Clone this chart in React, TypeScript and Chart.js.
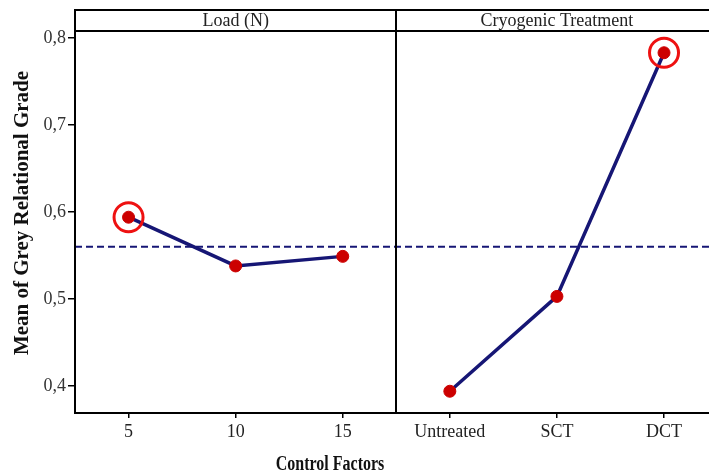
import React, { useEffect, useRef } from "react";
import { Chart, registerables } from "chart.js";

Chart.register(...registerables);

const panelTitles = ["Load (N)", "Cryogenic Treatment"];
const loadLevels = ["5", "10", "15"];
const cryoLevels = ["Untreated", "SCT", "DCT"];
const loadMeans = [0.594, 0.538, 0.549];
const cryoMeans = [0.394, 0.503, 0.783];
const overallMean = 0.56;
const yTicks = [0.4, 0.5, 0.6, 0.7, 0.8];
const bestLoadIndex = 0;
const bestCryoIndex = 2;
const xTitle = "Control Factors";
const yTitle = "Mean of Grey Relational Grade";

const allLabels = [...loadLevels, ...cryoLevels];
const X_MIN = -0.5;
const X_MAX = 5.42;
const Y_MIN = 0.369;
const Y_MAX = 0.808;
const SERIF = "'Liberation Serif', 'Times New Roman', serif";

const framePlugin = {
  id: "frame",
  afterDraw(chart: any) {
    const { ctx, chartArea, scales } = chart;
    const x = scales.x;
    const headerTop = 10;
    ctx.save();
    ctx.strokeStyle = "#000";
    ctx.lineWidth = 2;
    ctx.beginPath();
    ctx.moveTo(chartArea.left, headerTop);
    ctx.lineTo(chartArea.right + 2, headerTop);
    ctx.moveTo(chartArea.left, chartArea.top);
    ctx.lineTo(chartArea.right + 2, chartArea.top);
    ctx.moveTo(chartArea.left, headerTop - 1);
    ctx.lineTo(chartArea.left, chartArea.bottom);
    const dx = Math.round(x.getPixelForValue(2.5));
    ctx.moveTo(dx, headerTop - 1);
    ctx.lineTo(dx, chartArea.bottom);
    ctx.stroke();

    ctx.fillStyle = "#222";
    ctx.font = `18px ${SERIF}`;
    ctx.textAlign = "center";
    ctx.textBaseline = "middle";
    const hy = (headerTop + chartArea.top) / 2 + 1;
    ctx.fillText(panelTitles[0], x.getPixelForValue(1), hy);
    ctx.fillText(panelTitles[1], x.getPixelForValue(4), hy);

    // x title (condensed bold)
    ctx.fillStyle = "#111";
    ctx.font = `bold 20px ${SERIF}`;
    ctx.save();
    ctx.translate(330, 465);
    ctx.scale(0.8, 1);
    ctx.fillText(xTitle, 0, 0);
    ctx.restore();

    // y title
    ctx.save();
    ctx.font = `bold 20px ${SERIF}`;
    ctx.translate(23, 213);
    ctx.rotate(-Math.PI / 2);
    ctx.scale(1.05, 1);
    ctx.fillText(yTitle, 0, 0);
    ctx.restore();
    ctx.restore();
  },
};

export default function App() {
  const canvasRef = useRef<HTMLCanvasElement | null>(null);

  useEffect(() => {
    const canvas = canvasRef.current;
    if (!canvas) return;
    const loadData = loadMeans.map((v, i) => ({ x: i, y: v }));
    const cryoData = cryoMeans.map((v, i) => ({ x: i + loadLevels.length, y: v }));
    const highlightData = [
      { x: bestLoadIndex, y: loadMeans[bestLoadIndex] },
      { x: bestCryoIndex + loadLevels.length, y: cryoMeans[bestCryoIndex] },
    ];
    const lineStyle = {
      borderColor: "#161675",
      borderWidth: 3.5,
      pointRadius: 6,
      pointBackgroundColor: "#cc0000",
      pointBorderColor: "#cc0000",
      pointBorderWidth: 1,
      order: 1,
      clip: false,
    };
    const chart = new Chart(canvas, {
      type: "line",
      data: {
        datasets: [
          {
            label: "highlight",
            data: highlightData,
            showLine: false,
            pointStyle: "circle",
            pointRadius: 14.5,
            pointBorderWidth: 3,
            pointBorderColor: "#ee1111",
            pointBackgroundColor: "rgba(0,0,0,0)",
            order: 0,
            clip: false,
          } as any,
          { label: "Load", data: loadData, ...lineStyle } as any,
          { label: "Cryo", data: cryoData, ...lineStyle } as any,
          {
            label: "mean",
            data: [
              { x: X_MIN, y: overallMean },
              { x: X_MAX, y: overallMean },
            ],
            borderColor: "#161675",
            borderWidth: 2,
            borderDash: [7, 4],
            pointRadius: 0,
            order: 2,
          } as any,
        ],
      },
      options: {
        animation: false,
        responsive: false,
        maintainAspectRatio: false,
        layout: { autoPadding: false, padding: { top: 31, left: 0, right: 0, bottom: 0 } },
        plugins: {
          legend: { display: false },
          tooltip: { enabled: false },
          title: { display: false },
        },
        scales: {
          x: {
            type: "linear",
            min: X_MIN,
            max: X_MAX,
            afterBuildTicks: (s: any) => {
              s.ticks = allLabels.map((_, i) => ({ value: i }));
            },
            afterFit: (s: any) => {
              s.height = 61;
              s.paddingLeft = 0;
              s.paddingRight = 0;
            },
            ticks: {
              autoSkip: false,
              maxRotation: 0,
              padding: 3,
              color: "#222",
              font: { family: SERIF, size: 18 },
              callback: (v: any) => allLabels[Math.round(Number(v))] ?? "",
            },
            grid: {
              drawOnChartArea: false,
              drawTicks: true,
              tickLength: 5,
              color: "#000",
              lineWidth: 1.5,
            },
            border: { display: true, color: "#000", width: 2 },
          },
          y: {
            type: "linear",
            min: Y_MIN,
            max: Y_MAX,
            afterBuildTicks: (s: any) => {
              s.ticks = yTicks.map((v) => ({ value: v }));
            },
            afterFit: (s: any) => {
              s.width = 75;
              s.paddingTop = 0;
              s.paddingBottom = 0;
            },
            ticks: {
              padding: 2,
              color: "#333",
              font: { family: SERIF, size: 18 },
              callback: (v: any) => Number(v).toFixed(1).replace(".", ","),
            },
            grid: {
              drawOnChartArea: false,
              drawTicks: true,
              tickLength: 7,
              color: "#000",
              lineWidth: 1.5,
            },
            border: { display: true, color: "#000", width: 2 },
          },
        },
      },
      plugins: [framePlugin],
    });
    return () => chart.destroy();
  }, []);

  return (
    <div
      style={{
        position: "fixed",
        left: 0,
        top: 0,
        width: 709,
        height: 474,
        overflow: "hidden",
        background: "#fff",
      }}
    >
      <canvas ref={canvasRef} width={709} height={474} style={{ display: "block" }} />
    </div>
  );
}
